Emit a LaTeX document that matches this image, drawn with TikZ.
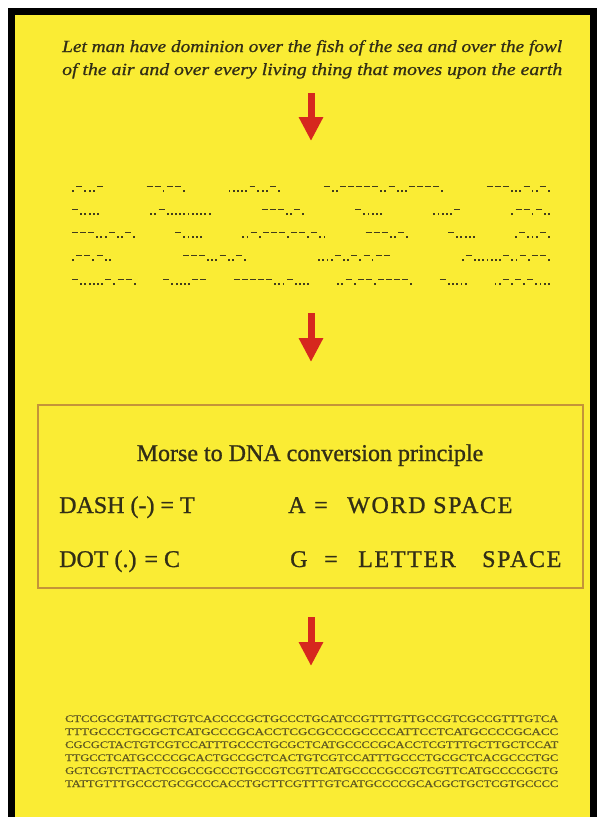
\documentclass[tikz,border=0pt]{standalone}
\usepackage{fontspec}
\usepackage{graphicx}
\setmainfont{Liberation Serif}
\usetikzlibrary{arrows.meta}

\definecolor{paper}{RGB}{250,236,52}
\definecolor{ink}{RGB}{50,46,22}
\definecolor{morseink}{RGB}{66,60,28}
\definecolor{dnaink}{RGB}{96,88,34}
\definecolor{frameline}{RGB}{196,148,56}
\definecolor{arrowred}{RGB}{214,40,30}

% Morse symbols: a dot sits on the baseline, a dash is a raised bar
\newcommand\mdot{\rule{1.9pt}{1.9pt}\kern2.3pt}
\newcommand\mdash{\raisebox{5pt}{\rule{6pt}{1pt}}\kern2pt}
\def\mwx#1{\ifx\relax#1\else\ifx.#1\mdot\else\mdash\fi\expandafter\mwx\fi}
\newcommand\mw[1]{\mbox{\mwx#1\relax}}
\newcommand\mrow[1]{\hbox to 480pt{#1}}
% stretch a line of text to a given width, keeping its height
\newcommand\fitline[2]{\resizebox{#1}{\height}{#2}}

\tikzset{
  quote/.style={anchor=base west, inner sep=0pt, text=ink,
    font=\fontsize{17}{20}\selectfont\itshape\addfontfeatures{FakeBold=0.8}},
  morse/.style={anchor=base west, inner sep=0pt, text=morseink},
  dna/.style={anchor=base west, inner sep=0pt, text=dnaink,
    font=\fontsize{10}{12}\selectfont\addfontfeatures{FakeBold=0.5}},
  rule text/.style={anchor=base west, inner sep=0pt, text=ink,
    font=\fontsize{24}{28}\selectfont\addfontfeatures{FakeBold=1}},
  spaced/.style={rule text,
    font=\fontsize{24}{28}\selectfont\addfontfeatures{FakeBold=1,LetterSpace=7}},
  redarrow/.style={draw=arrowred, line width=7pt,
    -{Triangle[width=23pt,length=24pt,fill=arrowred]}},
}

\begin{document}
\begin{tikzpicture}[x=1pt,y=-1pt]
\useasboundingbox (0,0) rectangle (602,817);
\fill[white] (0,0) rectangle (602,817);
\fill[black] (8,8) rectangle (597,817);
\fill[paper] (15,15) rectangle (590,817);

% the verse
\node[quote] (verse1) at (62,52) {\fitline{500pt}{Let man have dominion over the fish of the sea and over the fowl}};
\node[quote] (verse2) at (62,75) {\fitline{500pt}{of the air and over every living thing that moves upon the earth}};

% the verse in Morse code
\node[morse] (m1) at (72,192) {\mrow{\mw{.-...-}\hfill\mw{--.--.}\hfill\mw{.....-...-.}\hfill\mw{-..-----..-...----.}\hfill\mw{---...-..-.}}};
\node[morse] (m2) at (72,215) {\mrow{\mw{-.....}\hfill\mw{..-...........}\hfill\mw{---..-.}\hfill\mw{-.....}\hfill\mw{.....-}\hfill\mw{.--.-..}}};
\node[morse] (m3) at (72,238) {\mrow{\mw{---...-..-.}\hfill\mw{-.....}\hfill\mw{..-.---.--.-..}\hfill\mw{---..-.}\hfill\mw{-.....}\hfill\mw{.-...-.}}};
\node[morse] (m4) at (72,261) {\mrow{\mw{.--.-..}\hfill\mw{---...-..-.}\hfill\mw{....-..-.-.--}\hfill\mw{.-.......-..-.--.}}};
\node[morse] (m5) at (72,285) {\mrow{\mw{-......-.--.}\hfill\mw{-.....--}\hfill\mw{-----...-....}\hfill\mw{..-.--.----.}\hfill\mw{-.....}\hfill\mw{..-.-.-....}}};

% conversion principle
\node[draw=frameline, line width=2pt, minimum width=545pt, minimum height=183pt, inner sep=0pt] (rules) at (310.5,496.5) {};
\node[rule text, anchor=base] (title) at (310,461) {Morse to DNA conversion principle};
\node[rule text] (dash) at (59,513) {DASH (-) = T};
\node[rule text] (dot) at (59,567) {DOT (.) = C};
\node[rule text] (wordkey) at (288,513) {A};
\node[rule text] (wordeq) at (314,513) {=};
\node[spaced] (word) at (347,513) {WORD SPACE};
\node[rule text] (letterkey) at (290,567) {G};
\node[rule text] (lettereq) at (324,567) {=};
\node[spaced] (letter) at (358,567) {LETTER};
\node[spaced] (space) at (482,567) {SPACE};

% the resulting DNA sequence
\node[dna] (d1) at (65,722) {\fitline{493pt}{CTCCGCGTATTGCTGTCACCCCGCTGCCCTGCATCCGTTTGTTGCCGTCGCCGTTTGTCA}};
\node[dna] (d2) at (65,735) {\fitline{493pt}{TTTGCCCTGCGCTCATGCCCGCACCTCGCGCCCGCCCCATTCCTCATGCCCCGCACC}};
\node[dna] (d3) at (65,748) {\fitline{493pt}{CGCGCTACTGTCGTCCATTTGCCCTGCGCTCATGCCCCGCACCTCGTTTGCTTGCTCCAT}};
\node[dna] (d4) at (65,761) {\fitline{493pt}{TTGCCTCATGCCCCGCACTGCCGCTCACTGTCGTCCATTTGCCCTGCGCTCACGCCCTGC}};
\node[dna] (d5) at (65,774) {\fitline{493pt}{GCTCGTCTTACTCCGCCGCCCTGCCGTCGTTCATGCCCCGCCGTCGTTCATGCCCCGCTG}};
\node[dna] (d6) at (65,787) {\fitline{493pt}{TATTGTTTGCCCTGCGCCCACCTGCTTCGTTTGTCATGCCCCGCACGCTGCTCGTGCCCC}};

% arrows between the stages
\coordinate (a1s) at (311,93);
\coordinate (a1e) at (311,141);
\coordinate (a2s) at (311,313);
\coordinate (a2e) at (311,362);
\coordinate (a3s) at (311,617);
\coordinate (a3e) at (311,666);
\draw[redarrow] (a1s) -- (a1e);
\draw[redarrow] (a2s) -- (a2e);
\draw[redarrow] (a3s) -- (a3e);
\end{tikzpicture}
\end{document}
